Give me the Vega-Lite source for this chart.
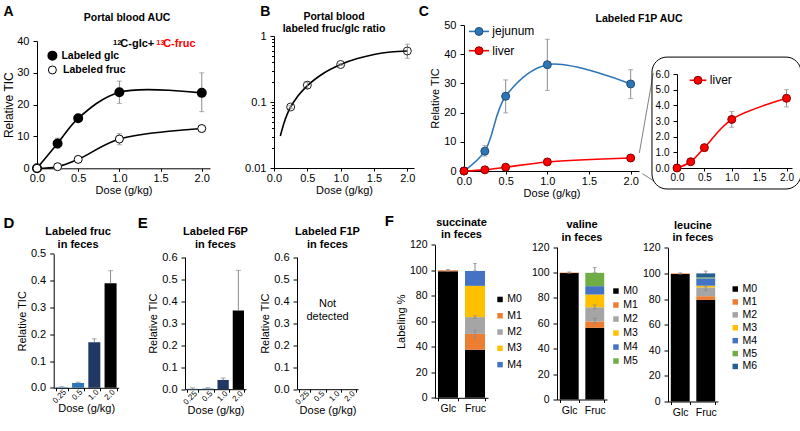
{
 "$schema": "https://vega.github.io/schema/vega-lite/v6.json",
 "background": "white",
 "padding": {"left": 2, "top": 4, "right": 0, "bottom": 0},
 "autosize": {"type": "pad"},
 "config": {
  "font": "Liberation Sans",
  "view": {"stroke": null},
  "axis": {"grid": false, "domainColor": "#000", "tickColor": "#000", "labelColor": "#000", "titleColor": "#000", "labelFontSize": 11, "titleFontSize": 11, "titleFontWeight": "normal", "labelOverlap": false, "labelFlush": false},
  "axisX": {"labelPadding": 1, "titlePadding": 1, "tickSize": 3, "labelAngle": 0},
  "axisY": {"labelPadding": 4, "titlePadding": 3, "tickSize": 4},
  "title": {"fontSize": 15, "fontWeight": "bold", "anchor": "start", "frame": "bounds", "color": "#000"},
  "legend": {"labelFontSize": 10.5, "labelColor": "#000", "symbolType": "square", "symbolSize": 30, "symbolStrokeWidth": 0, "labelOffset": 2, "title": null}
 },
 "datasets": {
  "one": [{"k": 1}],
  "A": [
   {"series": "Labeled glc", "dose": 0, "val": 0, "lo": 0, "hi": 0},
   {"series": "Labeled glc", "dose": 0.25, "val": 7.8, "lo": 6.3, "hi": 9.5},
   {"series": "Labeled glc", "dose": 0.5, "val": 15.7, "lo": 15.0, "hi": 16.4},
   {"series": "Labeled glc", "dose": 1, "val": 23.9, "lo": 20.4, "hi": 27.4},
   {"series": "Labeled glc", "dose": 2, "val": 23.7, "lo": 17.8, "hi": 30.0},
   {"series": "Labeled fruc", "dose": 0, "val": 0, "lo": 0, "hi": 0},
   {"series": "Labeled fruc", "dose": 0.25, "val": 0.5, "lo": 0.4, "hi": 0.6},
   {"series": "Labeled fruc", "dose": 0.5, "val": 2.8, "lo": 2.5, "hi": 3.1},
   {"series": "Labeled fruc", "dose": 1, "val": 9.2, "lo": 7.4, "hi": 10.9},
   {"series": "Labeled fruc", "dose": 2, "val": 12.5, "lo": 12.2, "hi": 12.8}
  ],
  "Bpts": [
   {"dose": 0.25, "val": 0.084, "lo": 0.08, "hi": 0.088},
   {"dose": 0.5, "val": 0.18, "lo": 0.16, "hi": 0.2},
   {"dose": 1, "val": 0.37, "lo": 0.36, "hi": 0.38},
   {"dose": 2, "val": 0.593, "lo": 0.46, "hi": 0.75}
  ],
  "Bfit": [
   {"dose": 0.095, "val": 0.0305}, {"dose": 0.15, "val": 0.048}, {"dose": 0.2, "val": 0.066},
   {"dose": 0.25, "val": 0.084}, {"dose": 0.35, "val": 0.12}, {"dose": 0.5, "val": 0.176},
   {"dose": 0.75, "val": 0.275}, {"dose": 1, "val": 0.37}, {"dose": 1.25, "val": 0.455},
   {"dose": 1.5, "val": 0.525}, {"dose": 1.75, "val": 0.572}, {"dose": 2, "val": 0.593}
  ],
  "C": [
   {"series": "jejunum", "dose": 0, "val": 0, "lo": 0, "hi": 0},
   {"series": "jejunum", "dose": 0.25, "val": 6.8, "lo": 5.1, "hi": 8.7},
   {"series": "jejunum", "dose": 0.5, "val": 25.6, "lo": 19.9, "hi": 31.2},
   {"series": "jejunum", "dose": 1, "val": 36.4, "lo": 27.6, "hi": 45.1},
   {"series": "jejunum", "dose": 2, "val": 29.8, "lo": 24.8, "hi": 34.7},
   {"series": "liver", "dose": 0, "val": 0, "lo": 0, "hi": 0},
   {"series": "liver", "dose": 0.25, "val": 0.4, "lo": 0.32, "hi": 0.48},
   {"series": "liver", "dose": 0.5, "val": 1.3, "lo": 1.2, "hi": 1.4},
   {"series": "liver", "dose": 1, "val": 3.1, "lo": 2.6, "hi": 3.6},
   {"series": "liver", "dose": 2, "val": 4.45, "lo": 3.9, "hi": 5.0}
  ],
  "D": [
   {"dose": "0.25", "val": 0.003, "hi": 0.004},
   {"dose": "0.5", "val": 0.018, "hi": 0.021},
   {"dose": "1.0", "val": 0.17, "hi": 0.183},
   {"dose": "2.0", "val": 0.39, "hi": 0.437}
  ],
  "E1": [
   {"dose": "0.25", "val": 0.002, "hi": 0.006},
   {"dose": "0.5", "val": 0.003, "hi": 0.007},
   {"dose": "1.0", "val": 0.042, "hi": 0.051},
   {"dose": "2.0", "val": 0.358, "hi": 0.54}
  ],
  "E2": [
   {"dose": "0.25", "val": null}, {"dose": "0.5", "val": null},
   {"dose": "1.0", "val": null}, {"dose": "2.0", "val": null}
  ],
  "F": [
   {"m": "succinate", "sugar": "Glc", "iso": "M0", "ord": 0, "val": 99.2},
   {"m": "succinate", "sugar": "Glc", "iso": "M1", "ord": 1, "val": 0.8},
   {"m": "succinate", "sugar": "Fruc", "iso": "M0", "ord": 0, "val": 37.7},
   {"m": "succinate", "sugar": "Fruc", "iso": "M1", "ord": 1, "val": 12.4},
   {"m": "succinate", "sugar": "Fruc", "iso": "M2", "ord": 2, "val": 13.2},
   {"m": "succinate", "sugar": "Fruc", "iso": "M3", "ord": 3, "val": 24.5},
   {"m": "succinate", "sugar": "Fruc", "iso": "M4", "ord": 4, "val": 11.7},
   {"m": "valine", "sugar": "Glc", "iso": "M0", "ord": 0, "val": 99.6},
   {"m": "valine", "sugar": "Glc", "iso": "M1", "ord": 1, "val": 0.4},
   {"m": "valine", "sugar": "Fruc", "iso": "M0", "ord": 0, "val": 56.5},
   {"m": "valine", "sugar": "Fruc", "iso": "M1", "ord": 1, "val": 5.0},
   {"m": "valine", "sugar": "Fruc", "iso": "M2", "ord": 2, "val": 11.2},
   {"m": "valine", "sugar": "Fruc", "iso": "M3", "ord": 3, "val": 10.0},
   {"m": "valine", "sugar": "Fruc", "iso": "M4", "ord": 4, "val": 6.6},
   {"m": "valine", "sugar": "Fruc", "iso": "M5", "ord": 5, "val": 10.5},
   {"m": "leucine", "sugar": "Glc", "iso": "M0", "ord": 0, "val": 99.5},
   {"m": "leucine", "sugar": "Glc", "iso": "M1", "ord": 1, "val": 0.5},
   {"m": "leucine", "sugar": "Fruc", "iso": "M0", "ord": 0, "val": 79.3},
   {"m": "leucine", "sugar": "Fruc", "iso": "M1", "ord": 1, "val": 2.9},
   {"m": "leucine", "sugar": "Fruc", "iso": "M2", "ord": 2, "val": 6.9},
   {"m": "leucine", "sugar": "Fruc", "iso": "M3", "ord": 3, "val": 1.3},
   {"m": "leucine", "sugar": "Fruc", "iso": "M4", "ord": 4, "val": 5.7},
   {"m": "leucine", "sugar": "Fruc", "iso": "M5", "ord": 5, "val": 0.8},
   {"m": "leucine", "sugar": "Fruc", "iso": "M6", "ord": 6, "val": 3.1}
  ],
  "Ferr": [
   {"m": "succinate", "sugar": "Glc", "lo": 99.4, "hi": 100.6},
   {"m": "succinate", "sugar": "Fruc", "lo": 47.0, "hi": 53.0},
   {"m": "succinate", "sugar": "Fruc", "lo": 62.3, "hi": 64.3},
   {"m": "succinate", "sugar": "Fruc", "lo": 99.5, "hi": 105.3},
   {"m": "valine", "sugar": "Glc", "lo": 99.5, "hi": 100.5},
   {"m": "valine", "sugar": "Fruc", "lo": 60.0, "hi": 64.0},
   {"m": "valine", "sugar": "Fruc", "lo": 71.5, "hi": 74.5},
   {"m": "valine", "sugar": "Fruc", "lo": 99.8, "hi": 104.0},
   {"m": "leucine", "sugar": "Glc", "lo": 99.5, "hi": 100.4},
   {"m": "leucine", "sugar": "Fruc", "lo": 86.5, "hi": 90.0},
   {"m": "leucine", "sugar": "Fruc", "lo": 100.0, "hi": 101.8}
  ]
 },
 "vconcat": [
  {
   "bounds": "flush",
   "spacing": 0,
   "hconcat": [
    {
     "width": 236.4, "height": 143.3,
     "layer": [
      {"data": {"name": "A"}, "transform": [{"filter": "datum.hi > datum.lo"}],
       "mark": {"type": "errorbar", "ticks": {"color": "#8c8c8c", "size": 5}, "rule": {"color": "#8c8c8c"}},
       "encoding": {
        "x": {"field": "dose", "type": "quantitative", "scale": {"domain": [0, 2.1], "nice": false, "range": [0, 173]}, "axis": {"values": [0, 0.5, 1, 1.5, 2], "tickCount": 30, "format": ".1f", "title": "Dose (g/kg)"}},
        "y": {"field": "lo", "type": "quantitative", "scale": {"domain": [0, 40], "nice": false, "range": [143.3, 16]}, "axis": {"values": [0, 10, 20, 30, 40], "tickCount": 30, "title": "Relative TIC", "titleFontSize": 12, "titlePadding": 1}},
        "y2": {"field": "hi"}}},
      {"data": {"name": "A"}, "mark": {"type": "line", "interpolate": "catmull-rom", "color": "#000", "strokeWidth": 1.6},
       "encoding": {"x": {"field": "dose", "type": "quantitative"}, "y": {"field": "val", "type": "quantitative"}, "detail": {"field": "series"}}},
      {"data": {"name": "A"}, "transform": [{"filter": "datum.series == 'Labeled glc'"}],
       "mark": {"type": "point", "filled": true, "fill": "#000", "stroke": "#000", "size": 64, "opacity": 1},
       "encoding": {"x": {"field": "dose", "type": "quantitative"}, "y": {"field": "val", "type": "quantitative"}}},
      {"data": {"name": "A"}, "transform": [{"filter": "datum.series == 'Labeled fruc'"}],
       "mark": {"type": "point", "filled": true, "fill": "#fff", "stroke": "#000", "strokeWidth": 1, "size": 64, "opacity": 1},
       "encoding": {"x": {"field": "dose", "type": "quantitative"}, "y": {"field": "val", "type": "quantitative"}}},
      {"data": {"name": "one"}, "mark": {"type": "point", "filled": true, "fill": "#000", "stroke": "#000", "size": 64, "opacity": 1},
       "encoding": {"x": {"datum": 0.187, "type": "quantitative"}, "y": {"datum": 35.4, "type": "quantitative"}}},
      {"data": {"name": "one"}, "mark": {"type": "text", "text": "Labeled glc", "fontSize": 10.5, "fontWeight": "bold", "align": "left", "baseline": "middle"},
       "encoding": {"x": {"datum": 0.296, "type": "quantitative"}, "y": {"datum": 35.4, "type": "quantitative"}}},
      {"data": {"name": "one"}, "mark": {"type": "point", "filled": true, "fill": "#fff", "stroke": "#000", "strokeWidth": 1, "size": 64, "opacity": 1},
       "encoding": {"x": {"datum": 0.187, "type": "quantitative"}, "y": {"datum": 30.9, "type": "quantitative"}}},
      {"data": {"name": "one"}, "mark": {"type": "text", "text": "Labeled fruc", "fontSize": 10.5, "fontWeight": "bold", "align": "left", "baseline": "middle"},
       "encoding": {"x": {"datum": 0.317, "type": "quantitative"}, "y": {"datum": 30.9, "type": "quantitative"}}},
      {"data": {"name": "one"}, "mark": {"type": "text", "text": "12", "fontSize": 7.5, "fontWeight": "bold", "align": "left", "baseline": "alphabetic", "color": "#000"},
       "encoding": {"x": {"datum": 0.924, "type": "quantitative"}, "y": {"datum": 38.8, "type": "quantitative"}}},
      {"data": {"name": "one"}, "mark": {"type": "text", "text": "C-glc+", "fontSize": 11, "fontWeight": "bold", "align": "left", "baseline": "alphabetic", "color": "#000"},
       "encoding": {"x": {"datum": 1.012, "type": "quantitative"}, "y": {"datum": 38.0, "type": "quantitative"}}},
      {"data": {"name": "one"}, "mark": {"type": "text", "text": "13", "fontSize": 7.5, "fontWeight": "bold", "align": "left", "baseline": "alphabetic", "color": "#ff0000"},
       "encoding": {"x": {"datum": 1.449, "type": "quantitative"}, "y": {"datum": 38.8, "type": "quantitative"}}},
      {"data": {"name": "one"}, "mark": {"type": "text", "text": "C-fruc", "fontSize": 11, "fontWeight": "bold", "align": "left", "baseline": "alphabetic", "color": "#ff0000"},
       "encoding": {"x": {"datum": 1.531, "type": "quantitative"}, "y": {"datum": 38.0, "type": "quantitative"}}},
      {"data": {"name": "one"}, "mark": {"type": "text", "text": "Portal blood AUC", "fontSize": 10.5, "fontWeight": "bold", "align": "center", "baseline": "alphabetic"},
       "encoding": {"x": {"datum": 1.093, "type": "quantitative"}, "y": {"datum": 46.17, "type": "quantitative"}}},
      {"data": {"name": "one"}, "mark": {"type": "text", "text": "A", "fontSize": 14, "fontWeight": "bold", "align": "left", "baseline": "alphabetic"},
       "encoding": {"x": {"datum": -0.408, "type": "quantitative"}, "y": {"datum": 47.97, "type": "quantitative"}}}
     ]
    },
    {
     "width": 189.7, "height": 143,
     "layer": [
      {"data": {"name": "Bfit"}, "mark": {"type": "line", "interpolate": "monotone", "color": "#000", "strokeWidth": 1.6},
       "encoding": {
        "x": {"field": "dose", "type": "quantitative", "scale": {"domain": [0, 2.1], "nice": false, "range": [0, 140]}, "axis": {"values": [0, 0.5, 1, 1.5, 2], "tickCount": 30, "format": ".1f", "title": "Dose (g/kg)"}},
        "y": {"field": "val", "type": "quantitative", "scale": {"type": "log", "domain": [0.01, 1], "nice": false, "range": [143, 11]}, "axis": {"values": [0.01, 0.02, 0.03, 0.04, 0.05, 0.06, 0.07, 0.08, 0.09, 0.1, 0.2, 0.3, 0.4, 0.5, 0.6, 0.7, 0.8, 0.9, 1], "tickCount": 50, "format": "~g", "labelExpr": "(datum.value == 1 || datum.value == 0.1 || datum.value == 0.01) ? datum.label : ''", "title": null, "tickSize": {"condition": {"test": "datum.value == 1 || datum.value == 0.1 || datum.value == 0.01", "value": 4}, "value": 2.5}}}}},
      {"data": {"name": "Bpts"}, "mark": {"type": "errorbar", "ticks": {"color": "#8c8c8c", "size": 5}, "rule": {"color": "#8c8c8c"}},
       "encoding": {"x": {"field": "dose", "type": "quantitative"}, "y": {"field": "lo", "type": "quantitative"}, "y2": {"field": "hi"}}},
      {"data": {"name": "Bpts"}, "mark": {"type": "point", "filled": true, "fill": "#fff", "fillOpacity": 0, "stroke": "#222", "strokeWidth": 1, "size": 64, "opacity": 1},
       "encoding": {"x": {"field": "dose", "type": "quantitative"}, "y": {"field": "val", "type": "quantitative"}}},
      {"data": {"name": "one"}, "mark": {"type": "text", "text": ["Portal blood", "labeled fruc/glc ratio"], "lineHeight": 12.5, "fontSize": 10.5, "fontWeight": "bold", "align": "center", "baseline": "alphabetic"},
       "encoding": {"x": {"datum": 0.9, "type": "quantitative"}, "y": {"datum": 1.778, "type": "quantitative"}}},
      {"data": {"name": "one"}, "mark": {"type": "text", "text": "B", "fontSize": 14, "fontWeight": "bold", "align": "left", "baseline": "alphabetic"},
       "encoding": {"x": {"datum": -0.206, "type": "quantitative"}, "y": {"datum": 2.009, "type": "quantitative"}}}
     ]
    },
    {
     "width": 212.3, "height": 146,
     "layer": [
      {"data": {"name": "C"}, "transform": [{"filter": "datum.series == 'jejunum' && datum.hi > datum.lo"}],
       "mark": {"type": "errorbar", "ticks": {"color": "#8c8c8c", "size": 5}, "rule": {"color": "#8c8c8c"}},
       "encoding": {
        "x": {"field": "dose", "type": "quantitative", "scale": {"domain": [0, 2.1], "nice": false, "range": [0, 175]}, "axis": {"values": [0, 0.5, 1, 1.5, 2], "tickCount": 30, "format": ".1f", "title": "Dose (g/kg)"}},
        "y": {"field": "lo", "type": "quantitative", "scale": {"domain": [0, 50], "nice": false}, "axis": {"values": [0, 10, 20, 30, 40, 50], "tickCount": 30, "title": "Relative TIC"}},
        "y2": {"field": "hi"}}},
      {"data": {"name": "C"}, "transform": [{"filter": "datum.series == 'jejunum'"}],
       "mark": {"type": "line", "interpolate": "catmull-rom", "color": "#2e75b6", "strokeWidth": 1.6},
       "encoding": {"x": {"field": "dose", "type": "quantitative"}, "y": {"field": "val", "type": "quantitative"}}},
      {"data": {"name": "C"}, "transform": [{"filter": "datum.series == 'liver'"}],
       "mark": {"type": "line", "interpolate": "catmull-rom", "color": "#ff0000", "strokeWidth": 1.6},
       "encoding": {"x": {"field": "dose", "type": "quantitative"}, "y": {"field": "val", "type": "quantitative"}}},
      {"data": {"name": "C"}, "transform": [{"filter": "datum.series == 'jejunum'"}],
       "mark": {"type": "point", "filled": true, "fill": "#2e75b6", "stroke": "#1f4e79", "strokeWidth": 1, "size": 64, "opacity": 1},
       "encoding": {"x": {"field": "dose", "type": "quantitative"}, "y": {"field": "val", "type": "quantitative"}}},
      {"data": {"name": "C"}, "transform": [{"filter": "datum.series == 'liver'"}],
       "mark": {"type": "point", "filled": true, "fill": "#ff0000", "stroke": "#7f0000", "strokeWidth": 1, "size": 64, "opacity": 1},
       "encoding": {"x": {"field": "dose", "type": "quantitative"}, "y": {"field": "val", "type": "quantitative"}}},
      {"data": {"name": "one"}, "mark": {"type": "rule", "color": "#2e75b6", "strokeWidth": 1.6},
       "encoding": {"x": {"datum": 0.06, "type": "quantitative"}, "x2": {"datum": 0.3}, "y": {"datum": 47.8, "type": "quantitative"}}},
      {"data": {"name": "one"}, "mark": {"type": "point", "filled": true, "fill": "#2e75b6", "stroke": "#1f4e79", "strokeWidth": 1, "size": 64, "opacity": 1},
       "encoding": {"x": {"datum": 0.18, "type": "quantitative"}, "y": {"datum": 47.8, "type": "quantitative"}}},
      {"data": {"name": "one"}, "mark": {"type": "text", "text": "jejunum", "fontSize": 12, "align": "left", "baseline": "middle"},
       "encoding": {"x": {"datum": 0.34, "type": "quantitative"}, "y": {"datum": 47.8, "type": "quantitative"}}},
      {"data": {"name": "one"}, "mark": {"type": "rule", "color": "#ff0000", "strokeWidth": 1.6},
       "encoding": {"x": {"datum": 0.06, "type": "quantitative"}, "x2": {"datum": 0.3}, "y": {"datum": 41.2, "type": "quantitative"}}},
      {"data": {"name": "one"}, "mark": {"type": "point", "filled": true, "fill": "#ff0000", "stroke": "#7f0000", "strokeWidth": 1, "size": 64, "opacity": 1},
       "encoding": {"x": {"datum": 0.18, "type": "quantitative"}, "y": {"datum": 41.2, "type": "quantitative"}}},
      {"data": {"name": "one"}, "mark": {"type": "text", "text": "liver", "fontSize": 12, "align": "left", "baseline": "middle"},
       "encoding": {"x": {"datum": 0.34, "type": "quantitative"}, "y": {"datum": 41.2, "type": "quantitative"}}},
      {"data": {"name": "one"}, "mark": {"type": "rule", "color": "#808080", "strokeWidth": 1},
       "encoding": {"x": {"datum": 2.104, "type": "quantitative"}, "x2": {"datum": 2.272}, "y": {"datum": 6.16, "type": "quantitative"}, "y2": {"datum": 33.6}}},
      {"data": {"name": "one"}, "mark": {"type": "rule", "color": "#808080", "strokeWidth": 1},
       "encoding": {"x": {"datum": 2.14, "type": "quantitative"}, "x2": {"datum": 2.28}, "y": {"datum": -0.92, "type": "quantitative"}, "y2": {"datum": -3.42}}},
      {"data": {"name": "one"}, "mark": {"type": "text", "text": "C", "fontSize": 14, "fontWeight": "bold", "align": "left", "baseline": "alphabetic"},
       "encoding": {"x": {"datum": -0.543, "type": "quantitative"}, "y": {"datum": 53.08, "type": "quantitative"}}}
     ]
    },
    {
     "width": 115, "height": 143,
     "layer": [
      {"data": {"name": "one"}, "mark": {"type": "rect", "filled": false, "stroke": "#000", "strokeWidth": 1, "cornerRadius": 15},
       "encoding": {
        "x": {"datum": -0.457, "type": "quantitative", "scale": {"domain": [0, 2.1], "nice": false}, "axis": {"values": [0, 0.5, 1, 1.5, 2], "tickCount": 30, "format": ".1f", "title": null, "labelFontSize": 10}},
        "x2": {"datum": 2.264},
        "y": {"datum": -1.34, "type": "quantitative", "scale": {"domain": [0, 6], "nice": false, "range": [143, 49]}, "axis": {"values": [0, 1, 2, 3, 4, 5, 6], "tickCount": 30, "title": null, "labelFontSize": 10}},
        "y2": {"datum": 7.08}}},
      {"data": {"name": "C"}, "transform": [{"filter": "datum.series == 'liver' && datum.hi > datum.lo"}],
       "mark": {"type": "errorbar", "ticks": {"color": "#8c8c8c", "size": 5}, "rule": {"color": "#8c8c8c"}},
       "encoding": {"x": {"field": "dose", "type": "quantitative"}, "y": {"field": "lo", "type": "quantitative"}, "y2": {"field": "hi"}}},
      {"data": {"name": "C"}, "transform": [{"filter": "datum.series == 'liver'"}],
       "mark": {"type": "line", "interpolate": "catmull-rom", "color": "#ff0000", "strokeWidth": 1.6},
       "encoding": {"x": {"field": "dose", "type": "quantitative"}, "y": {"field": "val", "type": "quantitative"}}},
      {"data": {"name": "C"}, "transform": [{"filter": "datum.series == 'liver'"}],
       "mark": {"type": "point", "filled": true, "fill": "#ff0000", "stroke": "#7f0000", "strokeWidth": 1, "size": 64, "opacity": 1},
       "encoding": {"x": {"field": "dose", "type": "quantitative"}, "y": {"field": "val", "type": "quantitative"}}},
      {"data": {"name": "one"}, "mark": {"type": "rule", "color": "#ff0000", "strokeWidth": 1.6},
       "encoding": {"x": {"datum": 0.232, "type": "quantitative"}, "x2": {"datum": 0.536}, "y": {"datum": 5.6, "type": "quantitative"}}},
      {"data": {"name": "one"}, "mark": {"type": "point", "filled": true, "fill": "#ff0000", "stroke": "#7f0000", "strokeWidth": 1, "size": 64, "opacity": 1},
       "encoding": {"x": {"datum": 0.383, "type": "quantitative"}, "y": {"datum": 5.6, "type": "quantitative"}}},
      {"data": {"name": "one"}, "mark": {"type": "text", "text": "liver", "fontSize": 12, "align": "left", "baseline": "middle"},
       "encoding": {"x": {"datum": 0.6, "type": "quantitative"}, "y": {"datum": 5.6, "type": "quantitative"}}},
      {"data": {"name": "one"}, "mark": {"type": "text", "text": "Labeled F1P AUC", "fontSize": 10.5, "fontWeight": "bold", "align": "center", "baseline": "alphabetic"},
       "encoding": {"x": {"datum": -0.694, "type": "quantitative"}, "y": {"datum": 9.35, "type": "quantitative"}}}
     ]
    }
   ]
  },
  {
   "bounds": "flush",
   "spacing": 0,
   "resolve": {"scale": {"color": "independent"}, "legend": {"color": "independent"}},
   "hconcat": [
    {
     "width": 147.1, "height": 143.3,
     "title": {"text": "D", "dx": -13, "offset": -5},
     "layer": [
      {"data": {"name": "D"}, "mark": {"type": "bar"},
       "encoding": {
        "x": {"field": "dose", "type": "ordinal", "scale": {"domain": ["0.25", "0.5", "1.0", "2.0"], "paddingInner": 0.26, "paddingOuter": 0.13, "range": [16.7, 81.7]}, "axis": {"title": "Dose (g/kg)", "labelAngle": -45, "labelBaseline": "middle", "tickBand": "extent", "labelFontSize": 8, "labelPadding": 0, "labelOffset": 3, "titlePadding": -2}},
        "y": {"field": "val", "type": "quantitative", "scale": {"domain": [0, 0.5], "nice": false, "range": [143.3, 9.3]}, "axis": {"values": [0, 0.1, 0.2, 0.3, 0.4, 0.5], "tickCount": 30, "format": ".1f", "title": "Relative TIC", "offset": -16.7}},
        "color": {"field": "dose", "type": "ordinal", "scale": {"domain": ["0.25", "0.5", "1.0", "2.0"], "range": ["#5b9bd5", "#2e75b6", "#203864", "#000000"]}, "legend": null}}},
      {"data": {"name": "D"}, "mark": {"type": "rule", "color": "#8c8c8c"},
       "encoding": {"x": {"field": "dose", "type": "ordinal"}, "y": {"field": "val", "type": "quantitative"}, "y2": {"field": "hi"}}},
      {"data": {"name": "D"}, "mark": {"type": "tick", "color": "#8c8c8c", "size": 5, "thickness": 1},
       "encoding": {"x": {"field": "dose", "type": "ordinal"}, "y": {"field": "hi", "type": "quantitative"}}},
      {"data": {"name": "one"}, "mark": {"type": "text", "text": ["Labeled fruc", "in feces"], "lineHeight": 13, "fontSize": 11, "fontWeight": "bold", "align": "center", "baseline": "alphabetic"},
       "encoding": {"x": {"datum": "0.5", "type": "ordinal"}, "y": {"datum": 0.57, "type": "quantitative"}}}
     ]
    },
    {
     "width": 111.7, "height": 144.7,
     "title": {"text": "E", "dx": -10, "offset": -5},
     "layer": [
      {"data": {"name": "E1"}, "mark": {"type": "bar"},
       "encoding": {
        "x": {"field": "dose", "type": "ordinal", "scale": {"domain": ["0.25", "0.5", "1.0", "2.0"], "paddingInner": 0.26, "paddingOuter": 0.13, "range": [0, 61]}, "axis": {"title": "Dose (g/kg)", "labelAngle": -45, "labelBaseline": "middle", "tickBand": "extent", "labelFontSize": 8, "labelPadding": 0, "labelOffset": 3, "titlePadding": -2}},
        "y": {"field": "val", "type": "quantitative", "scale": {"domain": [0, 0.6], "nice": false, "range": [144.7, 12.7]}, "axis": {"values": [0, 0.1, 0.2, 0.3, 0.4, 0.5, 0.6], "tickCount": 30, "format": ".1f", "title": "Relative TIC"}},
        "color": {"field": "dose", "type": "ordinal", "scale": {"domain": ["0.25", "0.5", "1.0", "2.0"], "range": ["#5b9bd5", "#2e75b6", "#203864", "#000000"]}, "legend": null}}},
      {"data": {"name": "E1"}, "mark": {"type": "rule", "color": "#8c8c8c"},
       "encoding": {"x": {"field": "dose", "type": "ordinal"}, "y": {"field": "val", "type": "quantitative"}, "y2": {"field": "hi"}}},
      {"data": {"name": "E1"}, "mark": {"type": "tick", "color": "#8c8c8c", "size": 5, "thickness": 1},
       "encoding": {"x": {"field": "dose", "type": "ordinal"}, "y": {"field": "hi", "type": "quantitative"}}},
      {"data": {"name": "one"}, "mark": {"type": "text", "text": ["Labeled F6P", "in feces"], "lineHeight": 13, "fontSize": 11, "fontWeight": "bold", "align": "center", "baseline": "alphabetic"},
       "encoding": {"x": {"datum": "0.5", "type": "ordinal", "bandPosition": 1.176}, "y": {"datum": 0.701, "type": "quantitative"}}}
     ]
    },
    {
     "width": 137.3, "height": 144.7,
     "layer": [
      {"data": {"name": "E2"}, "mark": {"type": "bar"},
       "encoding": {
        "x": {"field": "dose", "type": "ordinal", "scale": {"domain": ["0.25", "0.5", "1.0", "2.0"], "paddingInner": 0.26, "paddingOuter": 0.13, "range": [0, 61]}, "axis": {"title": "Dose (g/kg)", "labelAngle": -45, "labelBaseline": "middle", "tickBand": "extent", "labelFontSize": 8, "labelPadding": 0, "labelOffset": 3, "titlePadding": -2}},
        "y": {"field": "val", "type": "quantitative", "scale": {"domain": [0, 0.6], "nice": false, "range": [144.7, 12.7]}, "axis": {"values": [0, 0.1, 0.2, 0.3, 0.4, 0.5, 0.6], "tickCount": 30, "format": ".1f", "title": "Relative TIC"}}}},
      {"data": {"name": "one"}, "mark": {"type": "text", "text": ["Not", "detected"], "lineHeight": 13, "fontSize": 11, "align": "center", "baseline": "alphabetic"},
       "encoding": {"x": {"datum": "0.5", "type": "ordinal", "bandPosition": 1.176}, "y": {"datum": 0.373, "type": "quantitative"}}},
      {"data": {"name": "one"}, "mark": {"type": "text", "text": ["Labeled F1P", "in feces"], "lineHeight": 13, "fontSize": 11, "fontWeight": "bold", "align": "center", "baseline": "alphabetic"},
       "encoding": {"x": {"datum": "0.5", "type": "ordinal", "bandPosition": 1.176}, "y": {"datum": 0.701, "type": "quantitative"}}}
     ]
    },
    {
     "width": 121.3, "height": 153.3,
     "title": {"text": "F", "dx": -10.7, "offset": -12},
     "layer": [
      {"data": {"name": "F"}, "transform": [{"filter": "datum.m == 'succinate'"}], "mark": {"type": "bar"},
       "encoding": {
        "x": {"field": "sugar", "type": "ordinal", "scale": {"domain": ["Glc", "Fruc"], "paddingInner": 0.26, "paddingOuter": 0.11, "range": [0, 53]}, "axis": {"title": null, "tickBand": "extent", "labelFontSize": 10.5, "labelPadding": 3}},
        "y": {"field": "val", "type": "quantitative", "stack": "zero", "scale": {"domain": [0, 120], "nice": false, "range": [153.3, 0.3]}, "axis": {"values": [0, 20, 40, 60, 80, 100, 120], "tickCount": 30, "title": "Labeling %", "labelFontSize": 10.5}},
        "color": {"field": "iso", "type": "nominal", "scale": {"domain": ["M0", "M1", "M2", "M3", "M4"], "range": ["#000000", "#ed7d31", "#a5a5a5", "#ffc000", "#4472c4"]}, "legend": {"orient": "none", "legendX": 59.8, "legendY": 49.7, "rowPadding": 5.3}},
        "order": {"field": "ord", "type": "quantitative", "sort": "ascending"}}},
      {"data": {"name": "Ferr"}, "transform": [{"filter": "datum.m == 'succinate'"}],
       "mark": {"type": "errorbar", "ticks": {"color": "#8c8c8c", "size": 4}, "rule": {"color": "#8c8c8c"}},
       "encoding": {"x": {"field": "sugar", "type": "ordinal"}, "y": {"field": "lo", "type": "quantitative", "title": "Labeling %"}, "y2": {"field": "hi"}}},
      {"data": {"name": "one"}, "mark": {"type": "text", "text": ["succinate", "in feces"], "lineHeight": 12.5, "fontSize": 11, "fontWeight": "bold", "align": "center", "baseline": "alphabetic"},
       "encoding": {"x": {"datum": "Glc", "type": "ordinal", "bandPosition": 1.176}, "y": {"datum": 134.8, "type": "quantitative"}}}
     ]
    },
    {
     "width": 111, "height": 155,
     "layer": [
      {"data": {"name": "F"}, "transform": [{"filter": "datum.m == 'valine'"}], "mark": {"type": "bar"},
       "encoding": {
        "x": {"field": "sugar", "type": "ordinal", "scale": {"domain": ["Glc", "Fruc"], "paddingInner": 0.26, "paddingOuter": 0.11, "range": [0, 50]}, "axis": {"title": null, "tickBand": "extent", "labelFontSize": 10.5, "labelPadding": 3}},
        "y": {"field": "val", "type": "quantitative", "stack": "zero", "scale": {"domain": [0, 120], "nice": false, "range": [155, 2.7]}, "axis": {"values": [0, 20, 40, 60, 80, 100, 120], "tickCount": 30, "title": null, "labelFontSize": 10.5}},
        "color": {"field": "iso", "type": "nominal", "scale": {"domain": ["M0", "M1", "M2", "M3", "M4", "M5"], "range": ["#000000", "#ed7d31", "#a5a5a5", "#ffc000", "#4472c4", "#70ad47"]}, "legend": {"orient": "none", "legendX": 53.7, "legendY": 41.3, "rowPadding": 3}},
        "order": {"field": "ord", "type": "quantitative", "sort": "ascending"}}},
      {"data": {"name": "Ferr"}, "transform": [{"filter": "datum.m == 'valine'"}],
       "mark": {"type": "errorbar", "ticks": {"color": "#8c8c8c", "size": 4}, "rule": {"color": "#8c8c8c"}},
       "encoding": {"x": {"field": "sugar", "type": "ordinal"}, "y": {"field": "lo", "type": "quantitative", "title": null}, "y2": {"field": "hi"}}},
      {"data": {"name": "one"}, "mark": {"type": "text", "text": ["valine", "in feces"], "lineHeight": 12.5, "fontSize": 11, "fontWeight": "bold", "align": "center", "baseline": "alphabetic"},
       "encoding": {"x": {"datum": "Glc", "type": "ordinal", "bandPosition": 1.176}, "y": {"datum": 134.8, "type": "quantitative"}}}
     ]
    },
    {
     "width": 50, "height": 157,
     "layer": [
      {"data": {"name": "F"}, "transform": [{"filter": "datum.m == 'leucine'"}], "mark": {"type": "bar"},
       "encoding": {
        "x": {"field": "sugar", "type": "ordinal", "scale": {"domain": ["Glc", "Fruc"], "paddingInner": 0.26, "paddingOuter": 0.11}, "axis": {"title": null, "tickBand": "extent", "labelFontSize": 10.5, "labelPadding": 3}},
        "y": {"field": "val", "type": "quantitative", "stack": "zero", "scale": {"domain": [0, 120], "nice": false, "range": [157, 3.3]}, "axis": {"values": [0, 20, 40, 60, 80, 100, 120], "tickCount": 30, "title": null, "labelFontSize": 10.5}},
        "color": {"field": "iso", "type": "nominal", "scale": {"domain": ["M0", "M1", "M2", "M3", "M4", "M5", "M6"], "range": ["#000000", "#ed7d31", "#a5a5a5", "#ffc000", "#4472c4", "#70ad47", "#255e91"]}, "legend": {"orient": "none", "legendX": 62, "legendY": 39.3, "rowPadding": 1.9}},
        "order": {"field": "ord", "type": "quantitative", "sort": "ascending"}}},
      {"data": {"name": "Ferr"}, "transform": [{"filter": "datum.m == 'leucine'"}],
       "mark": {"type": "errorbar", "ticks": {"color": "#8c8c8c", "size": 4}, "rule": {"color": "#8c8c8c"}},
       "encoding": {"x": {"field": "sugar", "type": "ordinal"}, "y": {"field": "lo", "type": "quantitative", "title": null}, "y2": {"field": "hi"}}},
      {"data": {"name": "one"}, "mark": {"type": "text", "text": ["leucine", "in feces"], "lineHeight": 12.5, "fontSize": 11, "fontWeight": "bold", "align": "center", "baseline": "alphabetic"},
       "encoding": {"x": {"datum": "Glc", "type": "ordinal", "bandPosition": 1.176}, "y": {"datum": 134.8, "type": "quantitative"}}}
     ]
    }
   ]
  }
 ],
 "spacing": 15.5,
 "resolve": {"scale": {"color": "independent"}}
}
